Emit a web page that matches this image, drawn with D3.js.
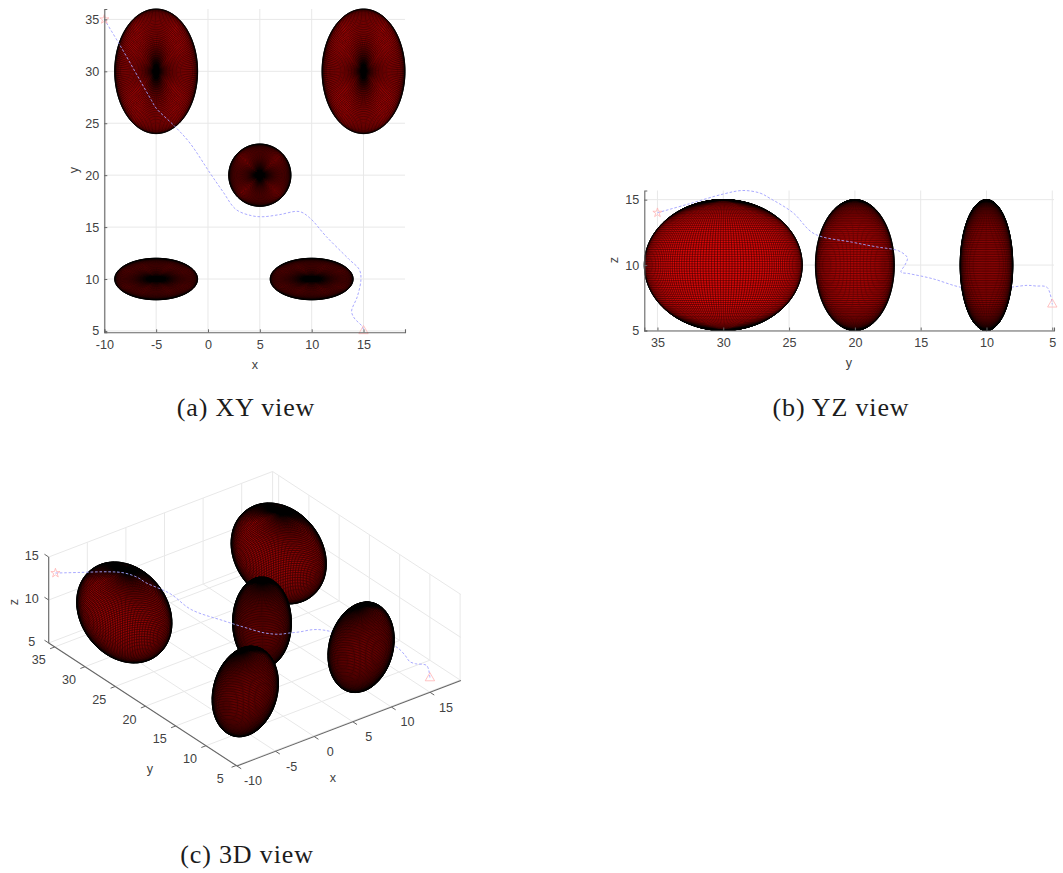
<!DOCTYPE html>
<html><head><meta charset="utf-8">
<script src="https://cdnjs.cloudflare.com/ajax/libs/d3/7.8.5/d3.min.js"></script>
<style>html,body{margin:0;padding:0;background:#fff}svg{display:block}
text{font-family:"Liberation Sans",Arial,sans-serif;fill:#404040;font-size:12.6px;opacity:.99}
text.cap{font-family:"Liberation Serif",serif;font-size:26px;fill:#1a1a1a;letter-spacing:.85px}</style></head>
<body><svg id="c" width="1063" height="873"></svg>
<script>
// ---- data ----
const ellipsoidX  = [-5, 15, 5, -5, 10];
const ellipsoidY  = [30, 30, 20, 10, 10];
const ellipsoidZ  = [10, 10, 10, 10, 10];
const radiusX     = [4, 4, 3, 4, 4];
const radiusY     = [6, 6, 3, 2, 2];
const radiusZ     = [5, 5, 5, 5, 5];
const pathX = [-10,-8.6,-7.05,-6.2,-5.45,-5,-3.2,-1.75,0.2,1.45,2.7,4.2,5.3,6.9,8.8,9.8,11.4,13.6,14.6,14.75,14.4,13.85,14.1,14.9,15];
const pathY = [35,32.7,30,28.5,27.2,26.45,24.7,23.1,20.2,18.4,16.7,16.1,16,16.2,16.5,15.9,14.1,11.9,10.9,9.95,8.3,6.9,6.25,5.4,5];
const pathZ = [14,14.65,15.43,15.7,15.5,15.1,14,12.4,11.75,11.4,11.1,10.7,10.5,10,9.47,9.35,8.96,8.3,8.3,8.3,8.3,8.45,8.4,8.3,7];
const xTicks = [-10,-5,0,5,10,15];
const yTicks = [5,10,15,20,25,30,35];
const zTicks = [5,10,15];
const xLimits = [-10,19], yLimits = [4.87,36], zLimits2D = [5,15.7], zLimits3D = [5,15];
const captions = ["(a) XY view","(b) YZ view","(c) 3D view"];

// ---- style ----
const MESH_N = 170;
const GRID = "#e8e8e8", AXIS = "#666", TRAJ = "#a0a0ff", MARK = "#ffb4b4";

const svg = d3.select("#c");
const ids = d3.range(ellipsoidX.length);
const pathPts = pathX.map((x,i)=>[x,pathY[i],pathZ[i]]);

function ellipsoidGroup(g, i, project, view, meshW){
  const c=[ellipsoidX[i],ellipsoidY[i],ellipsoidZ[i]], r=[radiusX[i],radiusY[i],radiusZ[i]];
  const o=project(c);
  const cols=[0,1,2].map(k=>{const p=c.slice();p[k]+=r[k];const q=project(p);return [q[0]-o[0],q[1]-o[1]];});
  const a=d3.sum(cols,d=>d[0]*d[0]), b=d3.sum(cols,d=>d[0]*d[1]), d_=d3.sum(cols,d=>d[1]*d[1]);
  const l11=Math.sqrt(a), l21=b/l11, l22=Math.sqrt(d_-l21*l21);
  const outline=d3.range(0,360,2).map(t=>{const u=Math.cos(t*Math.PI/180),v=Math.sin(t*Math.PI/180);
    return [o[0]+l11*u,o[1]+l21*u+l22*v];});
  g.append("path").attr("d",d3.line().curve(d3.curveLinearClosed)(outline))
    .attr("fill","#e00808").attr("stroke","#000").attr("stroke-width",.7);
  const N=MESH_N, segs=[];
  const pt=(ph,th)=>{const u=[Math.cos(ph)*Math.cos(th),Math.cos(ph)*Math.sin(th),Math.sin(ph)];
    const vis=u[0]/r[0]*view[0]+u[1]/r[1]*view[1]+u[2]/r[2]*view[2]>0;
    return {vis,p:project([c[0]+r[0]*u[0],c[1]+r[1]*u[1],c[2]+r[2]*u[2]])};};
  const poly=(f,m)=>{let open=false;for(let k=0;k<=m;k++){const q=f(k);
      if(q.vis){segs.push((open?"L":"M")+q.p[0].toFixed(2)+" "+q.p[1].toFixed(2));open=true;}else open=false;}};
  for(let j=0;j<N;j++){const th=2*Math.PI*j/N; poly(k=>pt(-Math.PI/2+Math.PI*k/(N/2),th),N/2);}
  for(let k=1;k<N/2;k++){const ph=-Math.PI/2+Math.PI*k/(N/2); poly(j=>pt(ph,2*Math.PI*j/N),N);}
  g.append("path").attr("d",segs.join("")).attr("fill","none").attr("stroke","#000").attr("stroke-width",meshW);
}
function trajectory(g, project){
  g.append("path").attr("d",d3.line().curve(d3.curveCatmullRom.alpha(.5))(pathPts.map(project)))
    .attr("fill","none").attr("stroke",TRAJ).attr("stroke-width",.9).attr("stroke-dasharray","2.6 1.8");
  const s=project(pathPts[0]), e=project(pathPts[pathPts.length-1]);
  g.append("path").attr("d",d3.symbol(d3.symbolStar,26)()).attr("transform",`translate(${s})`)
    .attr("fill","none").attr("stroke",MARK).attr("stroke-width",.8);
  g.append("path").attr("d",d3.symbol(d3.symbolTriangle,38)()).attr("transform",`translate(${e})`)
    .attr("fill","none").attr("stroke",MARK).attr("stroke-width",.8);
}
function panel2D(opt){
  const g=svg.append("g");
  const sh=opt.sh, sv=opt.sv, ht=opt.hTicks, vt=opt.vTicks;
  const [h0,h1]=sh.range(), [v0,v1]=sv.range();
  g.append("g").selectAll("line").data(ht).join("line").attr("x1",d=>sh(d)).attr("x2",d=>sh(d)).attr("y1",v0).attr("y2",v1).attr("stroke",GRID);
  g.append("g").selectAll("line").data(vt).join("line").attr("y1",d=>sv(d)).attr("y2",d=>sv(d)).attr("x1",h0).attr("x2",h1).attr("stroke",GRID);
  opt.before.forEach(i=>ellipsoidGroup(g.append("g"),i,opt.project,opt.view,opt.meshW));
  trajectory(g.append("g"),opt.project);
  opt.after.forEach(i=>ellipsoidGroup(g.append("g"),i,opt.project,opt.view,opt.meshW));
  const ax=d3.axisBottom(sh).tickValues(ht).tickSize(-3).tickPadding(8).tickFormat(String);
  const ay=d3.axisLeft(sv).tickValues(vt).tickSize(-3).tickPadding(5).tickFormat(String);
  for(const [a,t] of [[ax,`translate(0,${v0})`],[ay,`translate(${h0},0)`]]){
    const n=g.append("g").attr("transform",t).call(a);
    n.attr("font-family",null).attr("font-size",null);
    n.selectAll("path,line").attr("stroke",AXIS);
    n.select(".domain").attr("stroke-width",1.1);
    n.selectAll("text").attr("fill",null);
  }
  g.append("text").attr("x",opt.hLabel[0]).attr("y",opt.hLabel[1]).attr("text-anchor","middle").attr("dy",".35em").text(opt.hName);
  g.append("text").attr("transform",`translate(${opt.vLabel}) rotate(-90)`).attr("text-anchor","middle").attr("dy",".35em").text(opt.vName);
}

// ---- (a) XY ----
const ax_ = d3.scaleLinear().domain(xLimits).range([104.3,405]);
const ay_ = d3.scaleLinear().domain(yLimits).range([332.3,9]);
panel2D({sh:ax_,sv:ay_,hTicks:xTicks,vTicks:yTicks,hName:"x",vName:"y",hLabel:[255,365],vLabel:[74,170],meshW:.46,
  project:p=>[ax_(p[0]),ay_(p[1])],view:[0,0,1],before:ids,after:[]});

// ---- (b) YZ ----
const by_ = d3.scaleLinear().domain([yLimits[1],yLimits[0]]).range([644.3,1054]);
const bz_ = d3.scaleLinear().domain(zLimits2D).range([330.5,190.5]);
panel2D({sh:by_,sv:bz_,hTicks:yTicks.slice().reverse(),vTicks:zTicks,hName:"y",vName:"z",hLabel:[849,362.5],vLabel:[614,260],meshW:.42,
  project:p=>[by_(p[1]),bz_(p[2])],view:[-1,0,0],before:[1,0,2],after:[4,3]});

// ---- (c) 3D, oblique parallel projection ----
const O=[237,767];
const xpx=d3.scaleLinear().domain(xLimits).range([0,223.9]), xpy=d3.scaleLinear().domain(xLimits).range([0,-85.5]);
const ypx=d3.scaleLinear().domain(yLimits).range([0,-188.3]), ypy=d3.scaleLinear().domain(yLimits).range([0,-123]);
const zpy=d3.scaleLinear().domain([5,15]).range([-1,-87]);
const P3=p=>[O[0]+xpx(p[0])+ypx(p[1]), O[1]+xpy(p[0])+ypy(p[1])+zpy(p[2])];
const P3c=p=>{const q=P3(p);return [q[0]+.7,q[1]+3.5];};
const FL=zLimits3D[0], TP=zLimits3D[1], X0=xLimits[0], X1=xLimits[1], Y0=yLimits[0], Y1=yLimits[1];
const seg=(g,a,b,col,w)=>g.append("line").attr("x1",P3(a)[0]).attr("y1",P3(a)[1]).attr("x2",P3(b)[0]).attr("y2",P3(b)[1]).attr("stroke",col).attr("stroke-width",w||1);
const c3=svg.append("g"), gr=c3.append("g");
xTicks.forEach(x=>{seg(gr,[x,Y0,FL],[x,Y1,FL],GRID);seg(gr,[x,Y1,FL],[x,Y1,TP],GRID);});
yTicks.forEach(y=>{seg(gr,[X0,y,FL],[X1,y,FL],GRID);seg(gr,[X1,y,FL],[X1,y,TP],GRID);});
zTicks.forEach(z=>{seg(gr,[X0,Y1,z],[X1,Y1,z],GRID);seg(gr,[X1,Y1,z],[X1,Y0,z],GRID);});
seg(gr,[X1,Y1,FL],[X1,Y1,TP],GRID);
const view3=[-52.2,-66.6,48.3], mesh3=.58;
[1,0,2].forEach(i=>ellipsoidGroup(c3.append("g"),i,P3c,view3,mesh3));
trajectory(c3.append("g"),P3c);
[4,3].forEach(i=>ellipsoidGroup(c3.append("g"),i,P3c,view3,mesh3));
const ax3=c3.append("g");
seg(ax3,[X0,Y0,FL],[X1,Y0,FL],AXIS,1.1); seg(ax3,[X0,Y0,FL],[X0,Y1,FL],AXIS,1.1); seg(ax3,[X0,Y1,FL],[X0,Y1,TP],AXIS,1.1);
const label3=(p,dx,dy,t)=>{const q=P3(p);ax3.append("text").attr("x",q[0]+dx).attr("y",q[1]+dy).attr("text-anchor","middle").attr("dy",".35em").text(t);};
xTicks.forEach(x=>{seg(ax3,[x,Y0,FL],[x,Y0-.7,FL],AXIS);label3([x,Y0,FL],16,15,x);});
yTicks.forEach(y=>{seg(ax3,[X0,y,FL],[X0-.6,y,FL],AXIS);label3([X0,y,FL],-16,13,y);});
zTicks.forEach(z=>{seg(ax3,[X0,Y1,z],[X0,Y1+.7,z],AXIS);label3([X0,Y1,z],-17,-1,z);});
ax3.append("text").attr("x",333).attr("y",778).attr("text-anchor","middle").attr("dy",".35em").text("x");
ax3.append("text").attr("x",150).attr("y",769).attr("text-anchor","middle").attr("dy",".35em").text("y");
ax3.append("text").attr("transform","translate(14,602) rotate(-90)").attr("text-anchor","middle").attr("dy",".35em").text("z");

// ---- captions ----
svg.selectAll("text.cap").data(captions).join("text").attr("class","cap")
  .attr("x",(d,i)=>[246,841,247][i]).attr("y",(d,i)=>[416,416,863][i]).attr("text-anchor","middle").text(d=>d);
</script></body></html>
